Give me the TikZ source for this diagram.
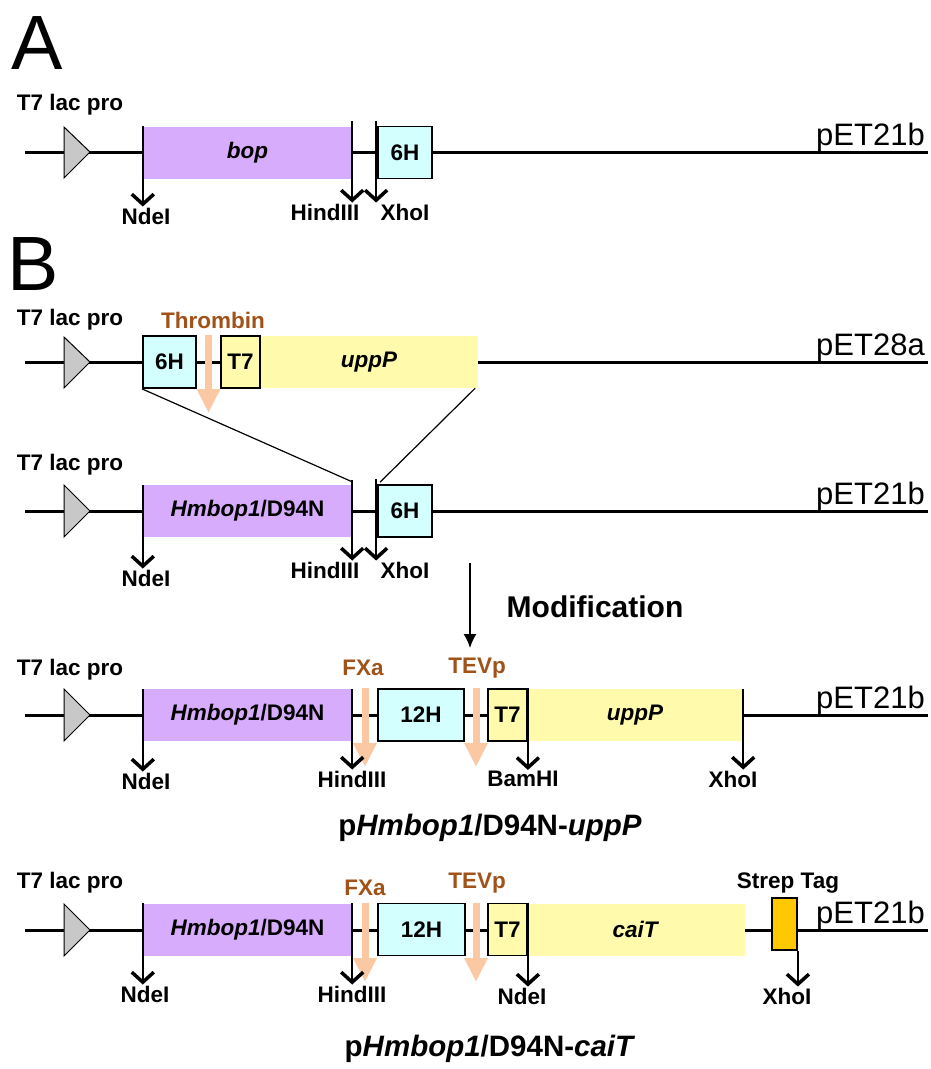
\documentclass[tikz,border=0pt]{standalone}
\usepackage{fontspec}
\setmainfont{Liberation Sans}
\usepackage{tikz}
\usetikzlibrary{arrows.meta,positioning,shapes,calc}
\usepackage{xcolor}
\definecolor{bopviolet}{RGB}{216,172,252}
\definecolor{hiscyan}{RGB}{212,255,255}
\definecolor{genyellow}{RGB}{255,250,172}
\definecolor{protorange}{RGB}{250,200,162}
\definecolor{sitebrown}{RGB}{160,82,24}
\definecolor{strepgold}{RGB}{255,200,0}
\definecolor{promgray}{RGB}{200,200,200}
\newcommand{\lblfont}{\fontsize{22.5}{22.5}\selectfont\bfseries}
\tikzset{
  backbone/.style={line width=3pt},
  promoter/.style={fill=promgray, draw=black, line width=1pt, line join=miter},
  genebox/.style={inner sep=0pt, minimum height=52pt, font=\lblfont},
  tagbox/.style={genebox, draw=black, line width=1.8pt},
  cutsite/.style={line width=2.5pt, -{Straight Barb[length=10pt,width=22pt,line width=3.5pt]}},
  sitelbl/.style={font=\lblfont, inner sep=1pt},
  cleave/.style={protorange, line width=7pt, -{Triangle[length=24pt,width=22pt]}},
  cleavelbl/.style={font=\lblfont, text=sitebrown, inner sep=1pt},
  plasmid/.style={font=\fontsize{31}{31}\selectfont, anchor=base east, inner sep=0pt},
  caption/.style={font=\fontsize{29.5}{29.5}\selectfont\bfseries},
  panel/.style={font=\fontsize{77}{77}\selectfont},
  cross/.style={line width=1.2pt},
  modarrow/.style={line width=1.5pt, -{Latex[length=14pt,width=13pt]}}
}

\begin{document}
\begin{tikzpicture}[x=1pt, y=-1pt]
        \useasboundingbox (0,0) rectangle (930,1069);
        % panel letters
        \node[panel] (panA) at (37,43) {A};
        \node[panel] (panB) at (33,264) {B};

        % ---- A: pET21b-bop
        \draw[backbone] (25,152) -- (928,152);
        \filldraw[promoter] (64,127) -- (90,152) -- (64,178) -- cycle;
        \node[sitelbl] (proA) at (70,105) {T7 lac pro};
        \node[plasmid] (vecA) at (925,145) {pET21b};
        \node[genebox, fill=bopviolet, minimum width=209pt] (bopA) at (247.5,152.5) {\textit{bop}};
        \node[tagbox, fill=hiscyan, minimum width=54pt] (hisA) at (405,152.5) {6H};
        \node[sitelbl] (ndeA) at (146,216) {NdeI};
        \node[sitelbl] (hindA) at (325,212) {HindIII};
        \node[sitelbl] (xhoA) at (405,212) {XhoI};
        \draw[cutsite] (bopA.north west) -- (bopA.west |- ndeA.north);
        \draw[cutsite] ([yshift=5pt]bopA.north east) -- (bopA.east |- hindA.north);
        \draw[cutsite] ([yshift=5pt,xshift=-1pt]hisA.north west) -- ([xshift=-1pt]hisA.west |- xhoA.north);

        % ---- B: pET28a-uppP
        \draw[backbone] (25,362) -- (928,362);
        \filldraw[promoter] (64,337) -- (90,362) -- (64,388) -- cycle;
        \node[sitelbl] (proB) at (70,320) {T7 lac pro};
        \node[plasmid] (vecB) at (925,355) {pET28a};
        \node[genebox, fill=genyellow, minimum width=218pt] (uppB) at (369,362) {\textit{uppP}};
        \node[tagbox, fill=hiscyan, minimum width=53pt] (hisB) at (169.5,362) {6H};
        \node[tagbox, fill=genyellow, minimum width=39pt] (tsevB) at (240.5,362) {T7};
        \coordinate (thrtip) at (208.5,413);
        \draw[cleave] (thrtip |- hisB.north) -- (thrtip);
        \node[cleavelbl] (thrB) at (213,320) {Thrombin};

        % ---- pET21b-Hmbop1/D94N
        \draw[backbone] (25,511) -- (928,511);
        \filldraw[promoter] (64,485) -- (90,511) -- (64,537) -- cycle;
        \node[sitelbl] (proC) at (70,465) {T7 lac pro};
        \node[plasmid] (vecC) at (925,504) {pET21b};
        \node[genebox, fill=bopviolet, minimum width=209pt] (bopC) at (247.5,511) {\textit{Hmbop1}/D94N};
        \node[tagbox, fill=hiscyan, minimum width=54pt] (hisC) at (405,511) {6H};
        \node[sitelbl] (ndeC) at (146,578) {NdeI};
        \node[sitelbl] (hindC) at (325,570) {HindIII};
        \node[sitelbl] (xhoC) at (405,570) {XhoI};
        \draw[cutsite] (bopC.north west) -- (bopC.west |- ndeC.north);
        \draw[cutsite] ([yshift=5pt]bopC.north east) -- (bopC.east |- hindC.north);
        \draw[cutsite] ([yshift=5pt,xshift=-1pt]hisC.north west) -- ([xshift=-1pt]hisC.west |- xhoC.north);
        % insertion lines
        \draw[cross] (hisB.south west) -- ([yshift=3pt]bopC.north east);
        \draw[cross] ([xshift=-3pt]uppB.south east) -- ([yshift=2pt,xshift=3pt]hisC.north west);

        % modification step
        \coordinate (modtop) at (470,563);
        \coordinate (modend) at (470,648);
        \draw[modarrow] (modtop) -- (modend);
        \node[font=\fontsize{30}{30}\selectfont\bfseries] (modlbl) at (595,607) {Modification};

        % ---- pHmbop1/D94N-uppP
        \draw[backbone] (25,715) -- (928,715);
        \filldraw[promoter] (64,689) -- (90,715) -- (64,741) -- cycle;
        \node[sitelbl] (proD) at (70,670) {T7 lac pro};
        \node[plasmid] (vecD) at (925,708) {pET21b};
        \node[genebox, fill=bopviolet, minimum width=209pt] (bopD) at (247.5,715) {\textit{Hmbop1}/D94N};
        \node[tagbox, fill=hiscyan, minimum width=86pt] (hisD) at (421,715) {12H};
        \node[genebox, fill=genyellow, minimum width=216pt] (uppD) at (635,715) {\textit{uppP}};
        \node[tagbox, fill=genyellow, minimum width=39pt] (tsevD) at (507.5,715) {T7};
        \coordinate (fxatipD) at (365,767);
        \coordinate (tevtipD) at (476,767);
        \draw[cleave] (fxatipD |- hisD.north) -- (fxatipD);
        \draw[cleave] (tevtipD |- hisD.north) -- (tevtipD);
        \node[cleavelbl] (fxaD) at (363,668) {FXa};
        \node[cleavelbl] (tevD) at (477,668) {TEVp};
        \node[sitelbl] (ndeD) at (146,781) {NdeI};
        \node[sitelbl] (hindD) at (352,779) {HindIII};
        \node[sitelbl] (bamD) at (523,779) {BamHI};
        \node[sitelbl] (xhoD) at (733,779) {XhoI};
        \draw[cutsite] (bopD.north west) -- (bopD.west |- ndeD.north);
        \draw[cutsite] (bopD.north east) -- (bopD.east |- hindD.north);
        \draw[cutsite] (tsevD.north east) -- (tsevD.east |- bamD.north);
        \draw[cutsite] (uppD.north east) -- (uppD.east |- xhoD.north);
        \node[caption] (capD) at (490,828) {p\textit{Hmbop1}/D94N-\textit{uppP}};

        % ---- pHmbop1/D94N-caiT
        \draw[backbone] (25,930) -- (928,930);
        \filldraw[promoter] (64,904) -- (90,930) -- (64,956) -- cycle;
        \node[sitelbl] (proE) at (70,883) {T7 lac pro};
        \node[plasmid] (vecE) at (925,923) {pET21b};
        \node[genebox, fill=bopviolet, minimum width=209pt] (bopE) at (247.5,929.5) {\textit{Hmbop1}/D94N};
        \node[tagbox, fill=hiscyan, minimum width=87pt] (hisE) at (421.5,929.5) {12H};
        \node[genebox, fill=genyellow, minimum width=218pt] (caiE) at (636,929.5) {\textit{caiT}};
        \node[tagbox, fill=genyellow, minimum width=39pt] (tsevE) at (507.5,929.5) {T7};
        \node[tagbox, fill=strepgold, minimum width=25pt] (strepE) at (784.5,924) {};
        \coordinate (fxatipE) at (365,982);
        \coordinate (tevtipE) at (476,982);
        \draw[cleave] (fxatipE |- hisE.north) -- (fxatipE);
        \draw[cleave] (tevtipE |- hisE.north) -- (tevtipE);
        \node[cleavelbl] (fxaE) at (365,888) {FXa};
        \node[cleavelbl] (tevE) at (477,883) {TEVp};
        \node[sitelbl] (strepl) at (788,883) {Strep Tag};
        \node[sitelbl] (ndeE) at (145,994) {NdeI};
        \node[sitelbl] (hindE) at (352,994) {HindIII};
        \node[sitelbl] (ndeEb) at (522,996) {NdeI};
        \node[sitelbl] (xhoE) at (787,996) {XhoI};
        \draw[cutsite] (bopE.north west) -- (bopE.west |- ndeE.north);
        \draw[cutsite] (bopE.north east) -- (bopE.east |- hindE.north);
        \draw[cutsite] (tsevE.north east) -- (tsevE.east |- ndeEb.north);
        \draw[cutsite] (strepE.south east) -- (strepE.east |- xhoE.north);
        \node[caption] (capE) at (490,1049) {p\textit{Hmbop1}/D94N-\textit{caiT}};
    \end{tikzpicture}
\end{document}
